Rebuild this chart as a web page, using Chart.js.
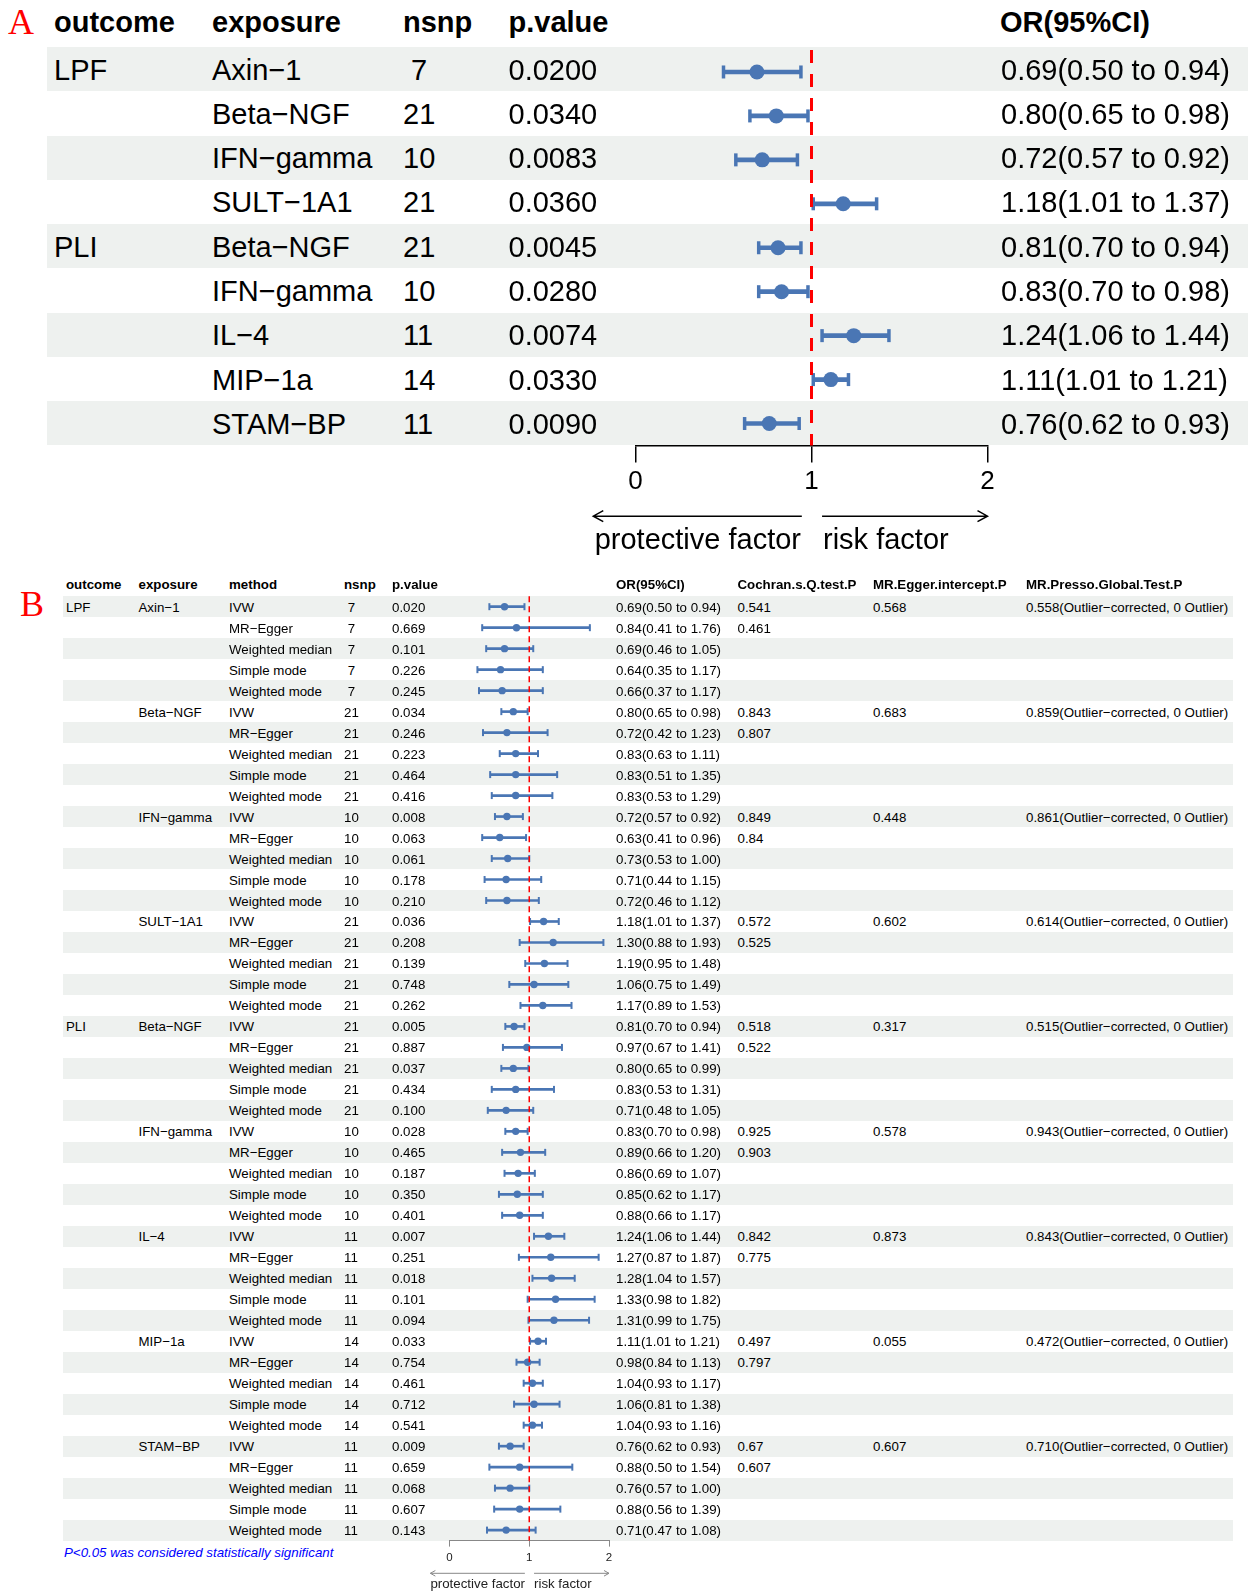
<!DOCTYPE html>
<html>
<head>
<meta charset="utf-8">
<script src="https://cdn.jsdelivr.net/npm/chart.js@4.4.1/dist/chart.umd.min.js"></script>
<style>
html,body{margin:0;padding:0;background:#fff;}
#root{position:relative;width:1248px;height:1591px;overflow:hidden;background:#fff;font-family:"Liberation Sans",Arial,Helvetica,sans-serif;color:#000;}
.t{position:absolute;white-space:pre;line-height:1;transform:translateY(-50%);}
.stripe{position:absolute;background:#eef1ef;}
canvas{position:absolute;}
</style>
</head>
<body>
<div id="root">
<canvas id="chartA" width="480" height="540" style="left:540px;top:40px;width:480px;height:540px;"></canvas>
<canvas id="chartB" width="260" height="1001" style="left:400px;top:590px;width:260px;height:1001px;"></canvas>
</div>
<script>
// ---------------- Panel A data ----------------
const outcomesA = ['LPF', '', '', '', 'PLI', '', '', '', ''];
const exposuresA = ['Axin−1', 'Beta−NGF', 'IFN−gamma', 'SULT−1A1', 'Beta−NGF', 'IFN−gamma', 'IL−4', 'MIP−1a', 'STAM−BP'];
const nsnpA = [7, 21, 10, 21, 21, 10, 11, 14, 11];
const pValuesA = ['0.0200', '0.0340', '0.0083', '0.0360', '0.0045', '0.0280', '0.0074', '0.0330', '0.0090'];
const orA = [0.69, 0.80, 0.72, 1.18, 0.81, 0.83, 1.24, 1.11, 0.76];
const lowerA = [0.50, 0.65, 0.57, 1.01, 0.70, 0.70, 1.06, 1.01, 0.62];
const upperA = [0.94, 0.98, 0.92, 1.37, 0.94, 0.98, 1.44, 1.21, 0.93];
const headersA = ['outcome', 'exposure', 'nsnp', 'p.value', 'OR(95%CI)'];

// ---------------- Panel B data ----------------
const headersB = ['outcome', 'exposure', 'method', 'nsnp', 'p.value', 'OR(95%CI)', 'Cochran.s.Q.test.P', 'MR.Egger.intercept.P', 'MR.Presso.Global.Test.P'];
const methodsB = ['IVW', 'MR−Egger', 'Weighted median', 'Simple mode', 'Weighted mode'];
const groupOutcomeB = ['LPF', '', '', '', 'PLI', '', '', '', ''];
const groupExposureB = ['Axin−1', 'Beta−NGF', 'IFN−gamma', 'SULT−1A1', 'Beta−NGF', 'IFN−gamma', 'IL−4', 'MIP−1a', 'STAM−BP'];
const groupNsnpB = [7, 21, 10, 21, 21, 10, 11, 14, 11];
const cochranIvwB = ['0.541', '0.843', '0.849', '0.572', '0.518', '0.925', '0.842', '0.497', '0.67'];
const cochranEggerB = ['0.461', '0.807', '0.84', '0.525', '0.522', '0.903', '0.775', '0.797', '0.607'];
const eggerInterceptB = ['0.568', '0.683', '0.448', '0.602', '0.317', '0.578', '0.873', '0.055', '0.607'];
const pressoB = ['0.558', '0.859', '0.861', '0.614', '0.515', '0.943', '0.843', '0.472', '0.710'];
const pressoSuffix = '(Outlier−corrected, 0 Outlier)';
const pValuesB = [
  '0.020', '0.669', '0.101', '0.226', '0.245',
  '0.034', '0.246', '0.223', '0.464', '0.416',
  '0.008', '0.063', '0.061', '0.178', '0.210',
  '0.036', '0.208', '0.139', '0.748', '0.262',
  '0.005', '0.887', '0.037', '0.434', '0.100',
  '0.028', '0.465', '0.187', '0.350', '0.401',
  '0.007', '0.251', '0.018', '0.101', '0.094',
  '0.033', '0.754', '0.461', '0.712', '0.541',
  '0.009', '0.659', '0.068', '0.607', '0.143'];
const orB = [
  0.69, 0.84, 0.69, 0.64, 0.66,
  0.80, 0.72, 0.83, 0.83, 0.83,
  0.72, 0.63, 0.73, 0.71, 0.72,
  1.18, 1.30, 1.19, 1.06, 1.17,
  0.81, 0.97, 0.80, 0.83, 0.71,
  0.83, 0.89, 0.86, 0.85, 0.88,
  1.24, 1.27, 1.28, 1.33, 1.31,
  1.11, 0.98, 1.04, 1.06, 1.04,
  0.76, 0.88, 0.76, 0.88, 0.71];
const lowerB = [
  0.50, 0.41, 0.46, 0.35, 0.37,
  0.65, 0.42, 0.63, 0.51, 0.53,
  0.57, 0.41, 0.53, 0.44, 0.46,
  1.01, 0.88, 0.95, 0.75, 0.89,
  0.70, 0.67, 0.65, 0.53, 0.48,
  0.70, 0.66, 0.69, 0.62, 0.66,
  1.06, 0.87, 1.04, 0.98, 0.99,
  1.01, 0.84, 0.93, 0.81, 0.93,
  0.62, 0.50, 0.57, 0.56, 0.47];
const upperB = [
  0.94, 1.76, 1.05, 1.17, 1.17,
  0.98, 1.23, 1.11, 1.35, 1.29,
  0.92, 0.96, 1.00, 1.15, 1.12,
  1.37, 1.93, 1.48, 1.49, 1.53,
  0.94, 1.41, 0.99, 1.31, 1.05,
  0.98, 1.20, 1.07, 1.17, 1.17,
  1.44, 1.87, 1.57, 1.82, 1.75,
  1.21, 1.13, 1.17, 1.38, 1.16,
  0.93, 1.54, 1.00, 1.39, 1.08];

// axis
const axisTicks = [0, 1, 2];
const arrowLabels = ['protective factor', 'risk factor'];
const arrowLeft = [0.945, -0.24];
const arrowRight = [1.06, 2.0];
const footnote = 'P<0.05 was considered statistically significant';

// ---------------- helpers ----------------
const FONT = '"Liberation Sans", Arial, Helvetica, sans-serif';
const BLUE = '#4a76b4';
const root = document.getElementById('root');
function txt(x, y, s, css) {
  const d = document.createElement('div');
  d.className = 't';
  d.textContent = s;
  d.style.left = x + 'px';
  d.style.top = y + 'px';
  Object.assign(d.style, css || {});
  root.appendChild(d);
  return d;
}
function txtR(xRight, y, s, css) {
  const d = txt(0, y, s, css);
  d.style.left = 'auto';
  d.style.right = (1248 - xRight) + 'px';
  return d;
}
function stripe(x0, x1, y0, h) {
  const d = document.createElement('div');
  d.className = 'stripe';
  d.style.left = x0 + 'px'; d.style.width = (x1 - x0) + 'px';
  d.style.top = y0 + 'px'; d.style.height = h + 'px';
  root.insertBefore(d, root.firstChild);
}
const ciText = (o, l, h) => o.toFixed(2) + '(' + l.toFixed(2) + ' to ' + h.toFixed(2) + ')';
const pad2 = n => String(n).padStart(2, ' ');

// ---------------- Panel A layout ----------------
const A = {top: 47, bottom: 445.5};
A.rowH = (A.bottom - A.top) / orA.length;
const colA = [54, 212, 403, 508.5, 1000];
const fA = {fontSize: '29px'};
txt(8, 22, 'A', {fontFamily: '"Liberation Serif", "Times New Roman", serif', fontSize: '36px', color: '#ff0000'});
headersA.forEach((h, k) => txt(colA[k], 22.2, h, {fontSize: '29px', fontWeight: 'bold'}));
orA.forEach((o, i) => {
  const yc = A.top + (i + 0.5) * A.rowH + 0.5;
  if (i % 2 === 0) stripe(46.7, 1248, A.top + i * A.rowH, A.rowH);
  txt(colA[0], yc, outcomesA[i], fA);
  txt(colA[1], yc, exposuresA[i], fA);
  txt(colA[2], yc, pad2(nsnpA[i]), fA);
  txt(colA[3], yc, pValuesA[i], fA);
  txt(colA[4] + 1, yc, ciText(o, lowerA[i], upperA[i]), fA);
});
txtR(801, 539.2, arrowLabels[0], fA);
txt(823, 539.2, arrowLabels[1], fA);

// ---------------- Panel B layout ----------------
const B = {top: 596.2, bottom: 1540.6};
B.rowH = (B.bottom - B.top) / orB.length;
const colB = [66, 138.5, 229, 344, 392, 616, 737.5, 873, 1026];
const fB = {fontSize: '13.3px'};
txt(20, 604, 'B', {fontFamily: '"Liberation Serif", "Times New Roman", serif', fontSize: '36px', color: '#ff0000'});
headersB.forEach((h, k) => txt(colB[k], 585.4, h, {fontSize: '13.3px', fontWeight: 'bold'}));
orB.forEach((o, i) => {
  const g = Math.floor(i / methodsB.length), m = i % methodsB.length;
  const yc = B.top + (i + 0.5) * B.rowH + 1;
  if (i % 2 === 0) stripe(62.5, 1233, B.top + i * B.rowH, B.rowH);
  if (m === 0) {
    txt(colB[0], yc, groupOutcomeB[g], fB);
    txt(colB[1], yc, groupExposureB[g], fB);
    txt(colB[6], yc, cochranIvwB[g], fB);
    txt(colB[7], yc, eggerInterceptB[g], fB);
    txt(colB[8], yc, pressoB[g] + pressoSuffix, fB);
  }
  if (m === 1) txt(colB[6], yc, cochranEggerB[g], fB);
  txt(colB[2], yc, methodsB[m], fB);
  txt(colB[3], yc, pad2(groupNsnpB[g]), fB);
  txt(colB[4], yc, pValuesB[i], fB);
  txt(colB[5], yc, ciText(o, lowerB[i], upperB[i]), fB);
});
txt(64, 1552.5, footnote, {fontSize: '13.3px', fontStyle: 'italic', color: '#0000ff'});
txtR(525, 1583.5, arrowLabels[0], {fontSize: '13.3px', color: '#222'});
txt(534, 1583.5, arrowLabels[1], {fontSize: '13.3px', color: '#222'});

// ---------------- Forest charts ----------------
function forest(id, o, l, h, st) {
  const n = o.length;
  const rows = o.map((_, i) => i);
  const arrowPlugin = {
    id: 'arrows' + id,
    afterDraw(chart) {
      const xs = chart.scales.x, c = chart.ctx;
      const y = xs.bottom + st.arrowDy;
      c.save();
      c.strokeStyle = st.arrowColor; c.lineWidth = st.arrowW;
      [arrowLeft, arrowRight].forEach(([a, b]) => {
        const x0 = xs.getPixelForValue(a), x1 = xs.getPixelForValue(b);
        const dir = Math.sign(x1 - x0);
        c.beginPath();
        c.moveTo(x0, y); c.lineTo(x1, y);
        c.moveTo(x1 - dir * st.headL, y - st.headH); c.lineTo(x1, y); c.lineTo(x1 - dir * st.headL, y + st.headH);
        c.stroke();
      });
      c.restore();
    }
  };
  return new Chart(document.getElementById(id), {
    type: 'bar',
    data: {
      datasets: [
        {type: 'line', data: [{x: 1, y: -0.5}, {x: 1, y: n - 0.5}], borderColor: '#ff0000',
         borderWidth: st.refW, borderDash: st.dash, pointRadius: 0, fill: false, order: 0, clip: false},
        {type: 'scatter', data: rows.map(i => ({x: o[i], y: i})), pointStyle: 'circle', pointRadius: st.dot,
         pointBackgroundColor: BLUE, pointBorderColor: BLUE, pointBorderWidth: 0, order: 1, clip: false},
        {type: 'scatter', data: rows.map(i => ({x: l[i], y: i})), pointStyle: 'line', pointRotation: 90,
         pointRadius: st.capH / 2, pointBorderColor: BLUE, borderColor: BLUE, pointBorderWidth: st.capW, order: 2, clip: false},
        {type: 'scatter', data: rows.map(i => ({x: h[i], y: i})), pointStyle: 'line', pointRotation: 90,
         pointRadius: st.capH / 2, pointBorderColor: BLUE, borderColor: BLUE, pointBorderWidth: st.capW, order: 2, clip: false},
        {type: 'bar', data: rows.map(i => ({x: [l[i], h[i]], y: i})), backgroundColor: BLUE,
         barThickness: st.ciW, borderWidth: 0, order: 3, clip: false}
      ]
    },
    options: {
      responsive: false, animation: false, devicePixelRatio: 1, indexAxis: 'y',
      layout: {padding: st.pad},
      plugins: {legend: {display: false}, tooltip: {enabled: false}},
      events: [],
      scales: {
        x: {
          type: 'linear', position: 'bottom', min: axisTicks[0], max: axisTicks[axisTicks.length - 1], offset: false,
          afterFit(s) { s.height = st.axisH; },
          afterBuildTicks(s) { s.ticks = axisTicks.map(v => ({value: v})); },
          ticks: {color: st.tickColor, font: {family: FONT, size: st.tickFont}, padding: st.tickPad,
                  maxRotation: 0, minRotation: 0, autoSkip: false, callback: v => String(v)},
          grid: {display: true, drawOnChartArea: false, drawTicks: true, tickLength: st.tickLen,
                 color: st.axisColor, lineWidth: st.axisW, offset: false},
          border: {display: true, color: st.axisColor, width: st.axisW}
        },
        y: {type: 'linear', min: -0.5, max: n - 0.5, reverse: true, display: false, offset: false, grid: {offset: false}}
      }
    },
    plugins: [arrowPlugin]
  });
}

forest('chartA', orA, lowerA, upperA, {
  pad: {left: 95.5, right: 32.5, top: 7, bottom: 540 - (A.bottom - 40) - 55},
  axisH: 55, tickLen: 17, tickFont: 26, tickPad: 3.4, tickColor: '#000', axisColor: '#000', axisW: 1.5,
  ciW: 4, capH: 13, capW: 3.5, dot: 7.5, refW: 3, dash: [13, 11],
  arrowDy: 15.7, arrowColor: '#000', arrowW: 1.5, headL: 10, headH: 5.5
});
forest('chartB', orB, lowerB, upperB, {
  pad: {left: 49.5, right: 51, top: B.top - 590, bottom: 1001 - (B.bottom - 590) - 27.8},
  axisH: 27.8, tickLen: 6, tickFont: 11.5, tickPad: 4, tickColor: '#222', axisColor: '#888', axisW: 1,
  ciW: 2, capH: 7, capW: 2, dot: 3.7, refW: 1.5, dash: [6, 4],
  arrowDy: 4.9, arrowColor: '#888', arrowW: 1, headL: 5, headH: 2.8
});
</script>
</body>
</html>
